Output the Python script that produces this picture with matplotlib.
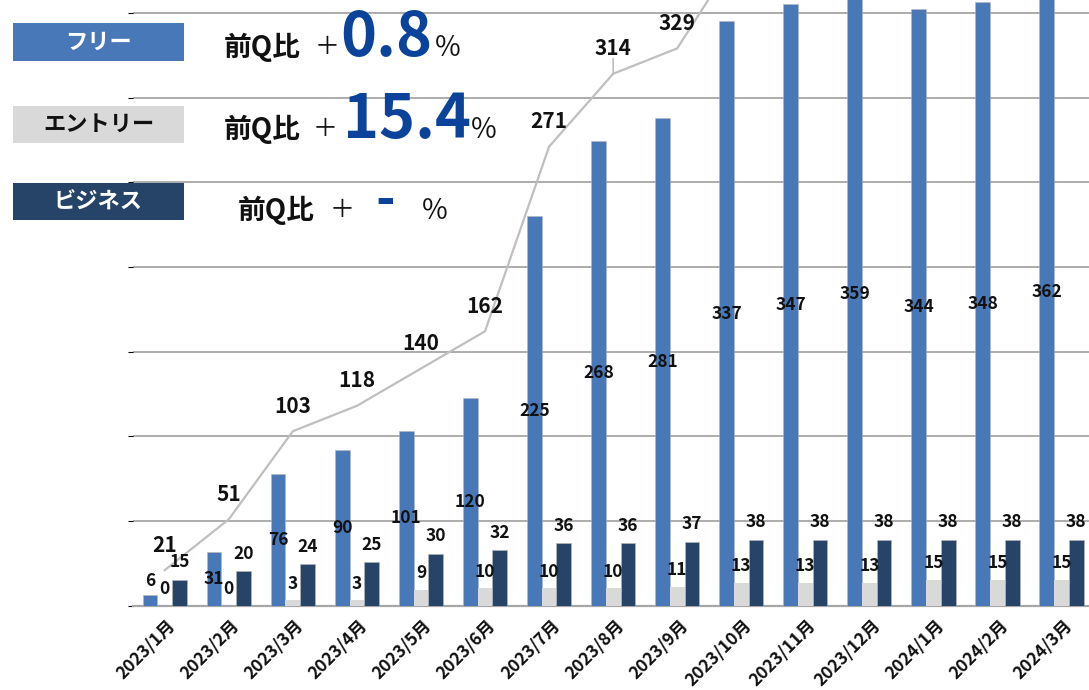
import numpy as np
import matplotlib.pyplot as plt
from matplotlib.patches import Rectangle

plt.rcParams['font.family'] = ['Noto Sans CJK JP', 'DejaVu Sans']

months = ['2023/1月', '2023/2月', '2023/3月', '2023/4月', '2023/5月', '2023/6月',
          '2023/7月', '2023/8月', '2023/9月', '2023/10月', '2023/11月', '2023/12月',
          '2024/1月', '2024/2月', '2024/3月']
free = [6, 31, 76, 90, 101, 120, 225, 268, 281, 337, 347, 359, 344, 348, 362]
entry = [0, 0, 3, 3, 9, 10, 10, 10, 11, 13, 13, 13, 15, 15, 15]
business = [15, 20, 24, 25, 30, 32, 36, 36, 37, 38, 38, 38, 38, 38, 38]
total = [21, 51, 103, 118, 140, 162, 271, 314, 329, 388, 398, 410, 397, 401, 415]

plan_names = ['フリー', 'エントリー', 'ビジネス']
qoq_change = ['0.8', '15.4', '-']

c_free = '#4878b8'
c_entry = '#d9d9d9'
c_bus = '#254467'
c_line = '#bfbfbf'
c_grid = '#a6a6a6'
c_big = '#0b429a'

W, H = 1089, 690
fig = plt.figure(figsize=(W / 100, H / 100), dpi=100)


def fx(px):
    return px / W


def fy(py):
    return 1 - py / H


# line axis (gridlines every 50); the top of the plot runs past the figure edge
ax_bottom, ax_height = 84.3, 677.6
ax = fig.add_axes([fx(132.7), ax_bottom / H, 960.9 / W, ax_height / H])
x = np.arange(len(months))
ax.set_xlim(-0.5, len(months) - 0.5)
ax.set_ylim(0, 400)
ax.set_yticks(np.arange(0, 351, 50))
ax.grid(axis='y', color=c_grid, lw=1.3)
ax.set_axisbelow(True)
ax.tick_params(left=False, labelleft=False, bottom=False, labelbottom=False)
for s in ['left', 'right', 'top']:
    ax.spines[s].set_visible(False)
ax.spines['bottom'].set_color(c_grid)
ax.spines['bottom'].set_linewidth(1.6)

# highest value still inside the picture
visible_max = 400 * (H - ax_bottom) / ax_height

ax.plot(x, total, color=c_line, lw=1.6, zorder=3)
for i, v in enumerate(total):
    if v < visible_max - 20:
        ax.annotate(str(v), (i, v), xytext=(0, 18), textcoords='offset points',
                    ha='center', va='center', fontsize=15, fontweight='bold', color='#111111')
# leader line for the moved label
ax.annotate('', (7, total[7]), xytext=(7, total[7] + 9),
            arrowprops=dict(arrowstyle='-', color=c_line, lw=1.2, shrinkA=0, shrinkB=0))

for i, m in enumerate(months):
    ax.annotate(m, (i, 0), xycoords=('data', 'axes fraction'), xytext=(1.5, -8),
                textcoords='offset points', rotation=45, ha='right', va='top',
                rotation_mode='anchor', fontsize=12.5, fontweight='bold', color='#111111')

# bar axis
axb = ax.twinx()
axb.set_ylim(0, ax_height / 1.734)
axb.set_axis_off()
w = 0.23
axb.bar(x - w, free, w, color=c_free, edgecolor='#b8b8b8', lw=0.4)
axb.bar(x, entry, w, color=c_entry, lw=0)
axb.bar(x + w, business, w, color=c_bus, edgecolor='#b8b8b8', lw=0.4)

lab = dict(ha='center', va='center', fontsize=12.5, fontweight='bold', color='#111111')
for i, v in enumerate(free):
    if v < 20:
        axb.annotate(str(v), (i - w, v), xytext=(0, 10), textcoords='offset points', **lab)
    else:
        axb.text(i - w, v / 2, str(v), **lab)
for i, v in enumerate(entry):
    axb.annotate(str(v), (i, v), xytext=(0, 12), textcoords='offset points', **lab)
for i, v in enumerate(business):
    axb.annotate(str(v), (i + w, v), xytext=(0, 12.5), textcoords='offset points', **lab)

# left side plan boxes and quarter-over-quarter texts
box_top = [22.7, 106, 182.7]
box_bot = [61, 142.7, 220]
box_col = [c_free, c_entry, c_bus]
box_txt = ['white', '#111111', 'white']
base_y = [56, 138, 219]
pre_x = [224, 224, 238]
plus_x = [315, 313, 330]
num_x = [340, 343, 385]
pct_x = [434, 470, 421]

for k in range(3):
    fig.add_artist(Rectangle((fx(13), fy(box_bot[k])), fx(184) - fx(13),
                             (box_bot[k] - box_top[k]) / H, transform=fig.transFigure,
                             color=box_col[k], lw=0))
    fig.text(fx(98.5), fy((box_top[k] + box_bot[k]) / 2), plan_names[k], ha='center',
             va='center', fontsize=16, fontweight='bold', color=box_txt[k])
    fig.text(fx(pre_x[k]), fy(base_y[k]), '前Q比', ha='left', va='baseline',
             fontsize=20, fontweight='bold', color='#111111')
    fig.text(fx(plus_x[k]), fy(base_y[k] - 2), '＋', ha='left', va='baseline',
             fontsize=18, color='#111111')
    if qoq_change[k] == '-':
        fig.text(fx(num_x[k]), fy(base_y[k] - 3), qoq_change[k], ha='center', va='baseline',
                 fontsize=38, fontweight='bold', color=c_big)
    else:
        fig.text(fx(num_x[k]), fy(base_y[k]), qoq_change[k], ha='left', va='baseline',
                 fontsize=44, fontweight='bold', color=c_big)
    fig.text(fx(pct_x[k]), fy(base_y[k]), '％', ha='left', va='baseline',
             fontsize=20, color='#111111')

fig.savefig('out.png', dpi=100)
